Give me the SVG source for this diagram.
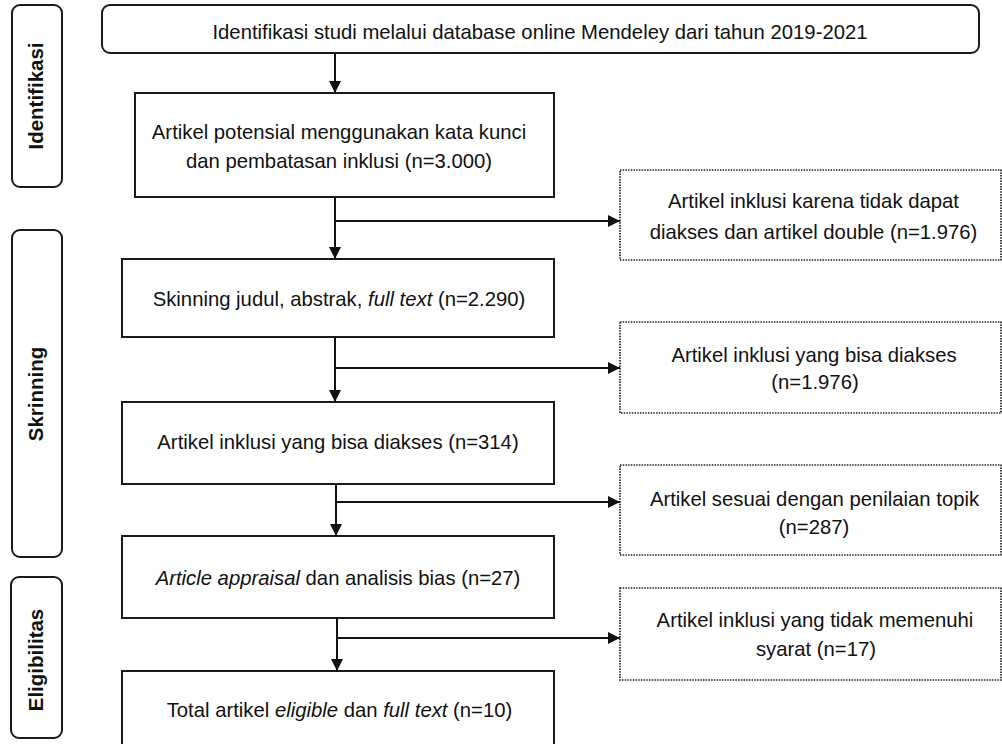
<svg xmlns="http://www.w3.org/2000/svg" width="1002" height="744" viewBox="0 0 1002 744">
<style>
.box{fill:#fff;stroke:#1a1a1a;stroke-width:2}
.side{fill:#fff;stroke:#1a1a1a;stroke-width:2}
.dot{fill:#fff;stroke:#222;stroke-width:1.7;stroke-dasharray:1.5 1.2}
.t{font-family:"Liberation Sans",Arial,sans-serif;font-size:20.3px;fill:#111;text-anchor:middle}
.s{font-family:"Liberation Sans",Arial,sans-serif;font-size:20.5px;font-weight:bold;fill:#111;text-anchor:middle}
.i{font-style:italic}
.ln{fill:none;stroke:#111;stroke-width:2}
</style>
<defs>
<marker id="ah" viewBox="0 0 12 12" refX="12" refY="6" markerWidth="12" markerHeight="12" markerUnits="userSpaceOnUse" orient="auto">
<path d="M0,0 L12,6 L0,12 Z" fill="#111"/>
</marker>
</defs>

<g id="label-identifikasi">
<rect class="side" x="12" y="5" width="50" height="182" rx="8"/>
<text class="s" transform="translate(43,96) rotate(-90)">Identifikasi</text>
</g>
<g id="label-skrinning">
<rect class="side" x="12" y="230" width="50" height="327" rx="8"/>
<text class="s" transform="translate(43,394) rotate(-90)">Skrinning</text>
</g>
<g id="label-eligibilitas">
<rect class="side" x="11" y="577" width="51" height="161" rx="8"/>
<text class="s" transform="translate(43,660) rotate(-90)">Eligibilitas</text>
</g>

<g id="node-identifikasi">
<rect class="box" x="102" y="5" width="877" height="48" rx="8"/>
<text class="t" x="540" y="39">Identifikasi studi melalui database online Mendeley dari tahun 2019-2021</text>
</g>
<g id="node-potensial">
<rect class="box" x="135" y="93" width="419" height="104"/>
<text class="t" x="339" y="139">Artikel potensial menggunakan kata kunci</text>
<text class="t" x="339" y="168">dan pembatasan inklusi (n=3.000)</text>
</g>
<g id="node-skinning">
<rect class="box" x="122" y="259" width="432" height="78"/>
<text class="t" x="339" y="306">Skinning judul, abstrak, <tspan class="i">full text</tspan> (n=2.290)</text>
</g>
<g id="node-inklusi">
<rect class="box" x="122" y="402" width="432" height="82"/>
<text class="t" x="338" y="449">Artikel inklusi yang bisa diakses (n=314)</text>
</g>
<g id="node-appraisal">
<rect class="box" x="122" y="536" width="432" height="82"/>
<text class="t" x="338" y="585"><tspan class="i">Article appraisal</tspan> dan analisis bias (n=27)</text>
</g>
<g id="node-total">
<rect class="box" x="122" y="671" width="432" height="90"/>
<text class="t" x="339.5" y="717">Total artikel <tspan class="i">eligible</tspan> dan <tspan class="i">full text</tspan> (n=10)</text>
</g>

<g id="node-excl1">
<rect class="dot" x="620" y="170" width="381" height="90"/>
<text class="t" x="813.5" y="208">Artikel inklusi karena tidak dapat</text>
<text class="t" x="813.5" y="239">diakses dan artikel double (n=1.976)</text>
</g>
<g id="node-excl2">
<rect class="dot" x="620" y="322" width="381" height="91"/>
<text class="t" x="814" y="362">Artikel inklusi yang bisa diakses</text>
<text class="t" x="815" y="389">(n=1.976)</text>
</g>
<g id="node-excl3">
<rect class="dot" x="620" y="465" width="381" height="90"/>
<text class="t" x="814.5" y="506">Artikel sesuai dengan penilaian topik</text>
<text class="t" x="814" y="534">(n=287)</text>
</g>
<g id="node-excl4">
<rect class="dot" x="620" y="588" width="381" height="92"/>
<text class="t" x="815" y="627">Artikel inklusi yang tidak memenuhi</text>
<text class="t" x="816" y="656">syarat (n=17)</text>
</g>

<g id="connectors">
<line class="ln" x1="335" y1="53" x2="335" y2="93" marker-end="url(#ah)"/>
<line class="ln" x1="335" y1="197" x2="335" y2="259" marker-end="url(#ah)"/>
<line class="ln" x1="335" y1="221" x2="620" y2="221" marker-end="url(#ah)"/>
<line class="ln" x1="335" y1="337" x2="335" y2="402" marker-end="url(#ah)"/>
<line class="ln" x1="335" y1="368" x2="620" y2="368" marker-end="url(#ah)"/>
<line class="ln" x1="336" y1="484" x2="336" y2="536" marker-end="url(#ah)"/>
<line class="ln" x1="336" y1="502" x2="620" y2="502" marker-end="url(#ah)"/>
<line class="ln" x1="337" y1="618" x2="337" y2="671" marker-end="url(#ah)"/>
<line class="ln" x1="337" y1="638" x2="620" y2="638" marker-end="url(#ah)"/>
</g>
</svg>
